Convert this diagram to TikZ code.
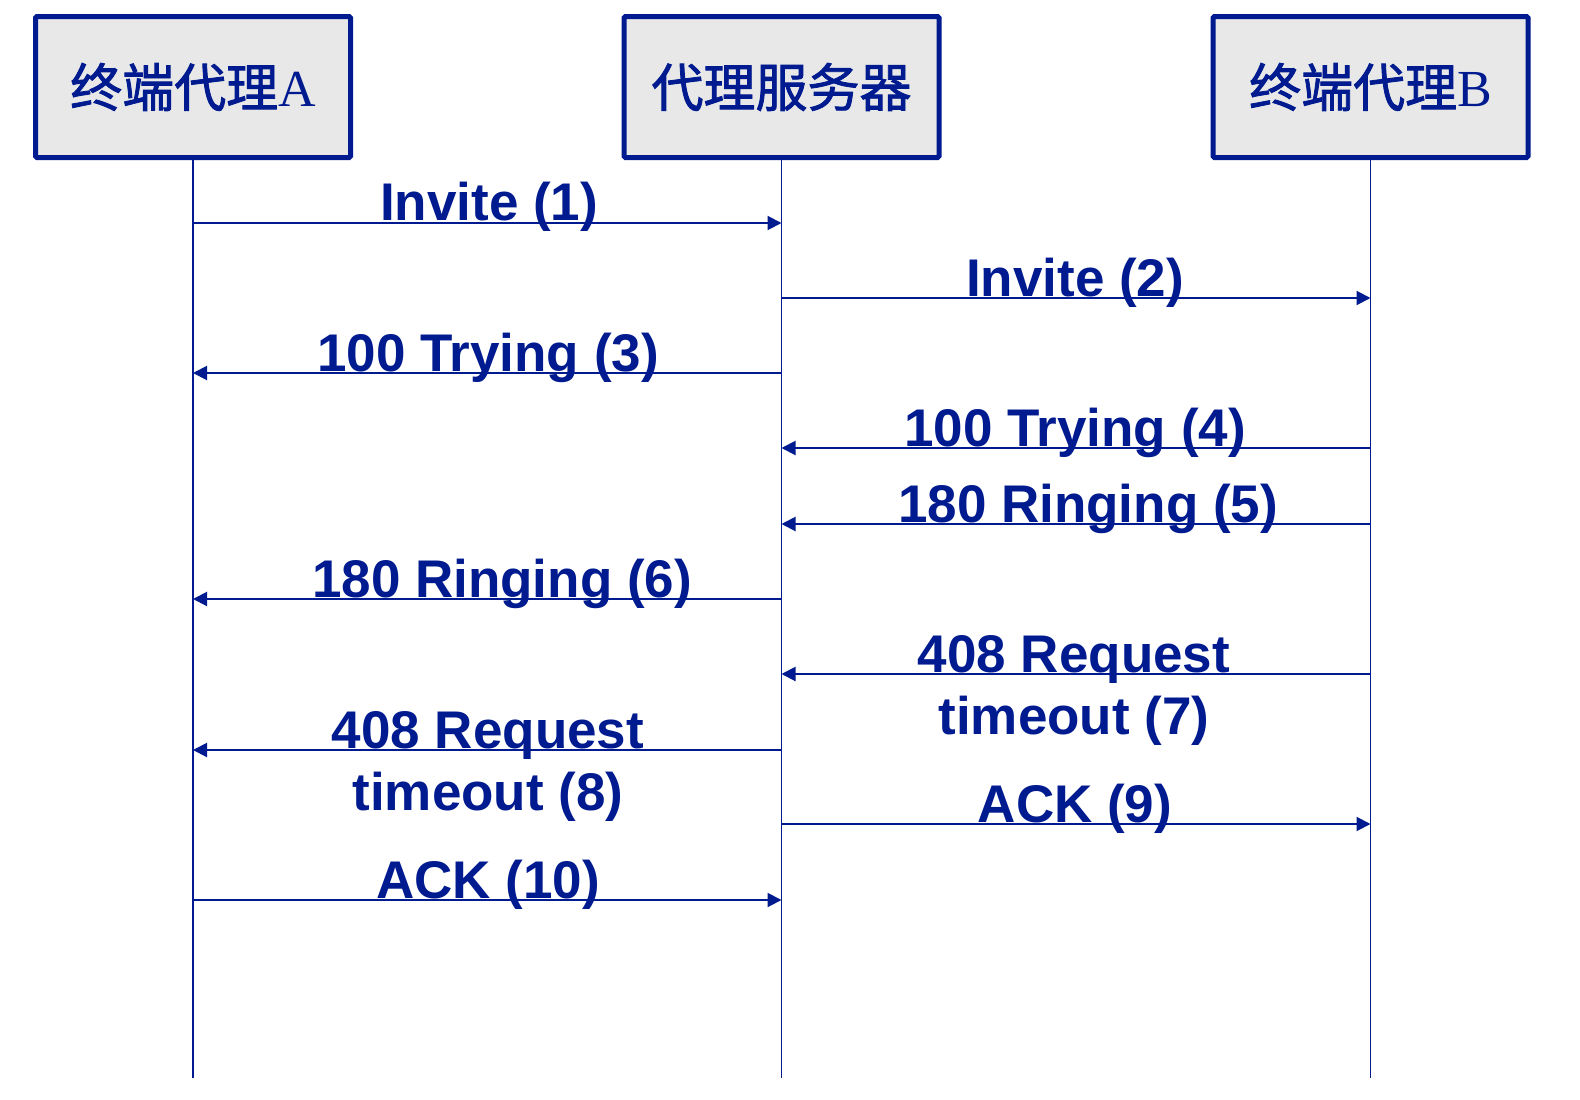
\documentclass[tikz,border=0pt]{standalone}
\usepackage{fontspec}
\setmainfont{Liberation Serif}
\newfontfamily\cjk[RawFeature={embolden=1.6}]{Noto Sans CJK SC}
\newfontfamily\lab{Liberation Sans}
\usetikzlibrary{arrows.meta}
\definecolor{sipblue}{RGB}{0,26,143}
\definecolor{boxgray}{RGB}{232,232,232}
\begin{document}
\begin{tikzpicture}[x=1pt,y=-1pt,
  actor/.style={draw=sipblue, fill=boxgray, line width=5pt, rounded corners=1.5pt,
    minimum width=315pt, minimum height=141pt, inner sep=0pt, text=sipblue,
    font=\fontsize{52}{60}\selectfont},
  life/.style={draw=sipblue, line width=1.5pt},
  msg/.style={draw=sipblue, line width=2pt, -{Triangle[length=14pt,width=14pt]}},
  lbl/.style={text=sipblue, anchor=base, inner sep=0pt, align=center,
    font=\lab\bfseries\fontsize{53}{62}\selectfont}]
\path[use as bounding box, fill=white] (0,0) rectangle (1580,1100);
% actors
\node[actor] (A) at (193,87) {\raisebox{-3pt}{{\cjk 终端代理}A}};
\node[actor] (P) at (781.5,87) {\raisebox{-3pt}{\cjk 代理服务器}};
\node[actor] (B) at (1370.5,87) {\raisebox{-3pt}{{\cjk 终端代理}B}};
% lifeline ends
\coordinate (Ae) at (193,1078);
\coordinate (Pe) at (781.5,1078);
\coordinate (Be) at (1370.5,1078);
\draw[life] (A.south) -- (Ae);
\draw[life] (P.south) -- (Pe);
\draw[life] (B.south) -- (Be);
% message end points
\foreach \i/\y in {1/223,2/298,3/373,4/448,5/524,6/599,7/674,8/750,9/824,10/900}{
  \coordinate (A\i) at (193,\y);
  \coordinate (P\i) at (781.5,\y);
  \coordinate (B\i) at (1370.5,\y);
}
% messages
\draw[msg] (A1) -- (P1);
\draw[msg] (P2) -- (B2);
\draw[msg] (P3) -- (A3);
\draw[msg] (B4) -- (P4);
\draw[msg] (B5) -- (P5);
\draw[msg] (P6) -- (A6);
\draw[msg] (B7) -- (P7);
\draw[msg] (P8) -- (A8);
\draw[msg] (P9) -- (B9);
\draw[msg] (A10) -- (P10);
% labels
\node[lbl] (l1) at (489,220) {Invite (1)};
\node[lbl] (l2) at (1075,296) {Invite (2)};
\node[lbl] (l3) at (488,371) {100 Trying (3)};
\node[lbl] (l4) at (1075,446) {100 Trying (4)};
\node[lbl] (l5) at (1088,522) {180 Ringing (5)};
\node[lbl] (l6) at (502,597) {180 Ringing (6)};
\node[lbl] (l7) at (1074,734) {408 Request\\timeout (7)};
\node[lbl] (l8) at (488,810) {408 Request\\timeout (8)};
\node[lbl] (l9) at (1075,822) {ACK (9)};
\node[lbl] (l10) at (488,898) {ACK (10)};
\end{tikzpicture}
\end{document}
